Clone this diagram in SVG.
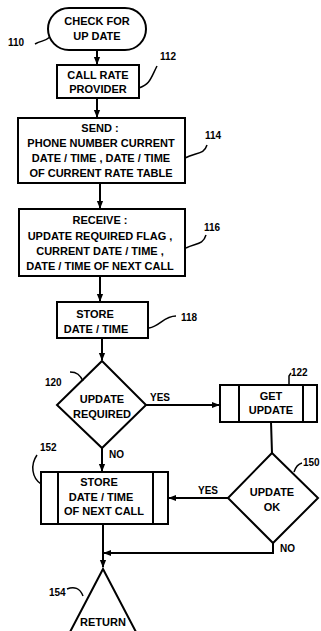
<svg xmlns="http://www.w3.org/2000/svg" width="321" height="631" viewBox="0 0 321 631">
<defs>
<marker id="ah" viewBox="0 0 10 10" refX="9" refY="5" markerWidth="4" markerHeight="4" orient="auto">
<path d="M0,1 L10,5 L0,9 z" fill="#000"/>
</marker>
<style>
.s{fill:#fff;stroke:#000;stroke-width:2}
.t{font-family:"Liberation Sans",Arial,sans-serif;font-weight:bold;font-size:11px;fill:#000;text-anchor:middle}
.l{font-family:"Liberation Sans",Arial,sans-serif;font-weight:bold;font-size:10px;fill:#000}
.c{fill:none;stroke:#000;stroke-width:2}
.ld{fill:none;stroke:#000;stroke-width:1.5}
</style>
</defs>
<rect width="321" height="631" fill="#fff"/>
<g id="connectors">
<line class="c" x1="97" y1="50" x2="97" y2="64" marker-end="url(#ah)"/>
<line class="c" x1="97" y1="98" x2="97" y2="117" marker-end="url(#ah)"/>
<line class="c" x1="100" y1="183" x2="100" y2="208" marker-end="url(#ah)"/>
<line class="c" x1="100" y1="276" x2="100" y2="301" marker-end="url(#ah)"/>
<line class="c" x1="102" y1="338" x2="102" y2="360" marker-end="url(#ah)"/>
<line class="c" x1="146" y1="405" x2="219" y2="405" marker-end="url(#ah)"/>
<line class="c" x1="271" y1="422" x2="272" y2="453"/>
<line class="c" x1="228" y1="498" x2="169" y2="498" marker-end="url(#ah)"/>
<line class="c" x1="102" y1="448" x2="102" y2="471" marker-end="url(#ah)"/>
<line class="c" x1="103" y1="524" x2="103" y2="567" marker-end="url(#ah)"/>
<polyline class="c" points="273,543 273,553 104,553" marker-end="url(#ah)"/>
<text class="l" x="150" y="401">YES</text>
<text class="l" x="198" y="494">YES</text>
<text class="l" x="109" y="458">NO</text>
<text class="l" x="280" y="552">NO</text>
</g>
<g id="n110">
<rect class="s" x="48" y="8" width="98" height="42" rx="21" ry="21"/>
<text class="t" x="97" y="25">CHECK FOR</text>
<text class="t" x="97" y="40">UP DATE</text>
<text class="l" x="8" y="46">110</text>
<path class="ld" d="M35,44 C42,40 44,42 50,37"/>
</g>
<g id="n112">
<rect class="s" x="57" y="65" width="82" height="33"/>
<text class="t" x="98" y="79">CALL RATE</text>
<text class="t" x="98" y="93">PROVIDER</text>
<text class="l" x="160" y="60">112</text>
<path class="ld" d="M139,88 C150,84 150,80 157,66"/>
</g>
<g id="n114">
<rect class="s" x="18" y="118" width="167" height="65"/>
<text class="t" x="100" y="132">SEND :</text>
<text class="t" x="101" y="147">PHONE NUMBER CURRENT</text>
<text class="t" x="101" y="162">DATE / TIME , DATE / TIME</text>
<text class="t" x="101" y="177">OF CURRENT RATE TABLE</text>
<text class="l" x="205" y="139">114</text>
<path class="ld" d="M185,158 C196,152 204,155 207,145"/>
</g>
<g id="n116">
<rect class="s" x="19" y="209" width="166" height="67"/>
<text class="t" x="100" y="224">RECEIVE :</text>
<text class="t" x="100" y="240">UPDATE REQUIRED FLAG ,</text>
<text class="t" x="100" y="255">CURRENT DATE / TIME ,</text>
<text class="t" x="100" y="270">DATE / TIME OF NEXT CALL</text>
<text class="l" x="204" y="231">116</text>
<path class="ld" d="M186,248 C196,243 203,245 206,235"/>
</g>
<g id="n118">
<rect class="s" x="57" y="302" width="91" height="36"/>
<text class="t" x="95" y="318">STORE</text>
<text class="t" x="96" y="333">DATE / TIME</text>
<text class="l" x="181" y="321">118</text>
<path class="ld" d="M149,328 C160,326 164,316 176,316"/>
</g>
<g id="n120">
<polygon class="s" points="102,361 146,405 102,448 57,405"/>
<text class="t" x="102" y="403">UPDATE</text>
<text class="t" x="102" y="418">REQUIRED</text>
<text class="l" x="45" y="386">120</text>
<path class="ld" d="M70,372 C77,372 80,375 83,381"/>
</g>
<g id="n122">
<rect class="s" x="220" y="385" width="97" height="37"/>
<line class="c" x1="239" y1="385" x2="239" y2="422"/>
<line class="c" x1="303" y1="385" x2="303" y2="422"/>
<text class="t" x="271" y="400">GET</text>
<text class="t" x="271" y="414">UPDATE</text>
<text class="l" x="291" y="376">122</text>
<path class="ld" d="M289,385 L289,376 L291,373"/>
</g>
<g id="n150">
<polygon class="s" points="272,453 318,498 273,543 228,498"/>
<text class="t" x="272" y="496">UPDATE</text>
<text class="t" x="272" y="511">OK</text>
<text class="l" x="303" y="466">150</text>
<path class="ld" d="M294,472 C296,466 298,464 302,463"/>
</g>
<g id="n152">
<rect class="s" x="41" y="472" width="127" height="52"/>
<line class="c" x1="58" y1="472" x2="58" y2="524"/>
<line class="c" x1="153" y1="472" x2="153" y2="524"/>
<text class="t" x="99" y="486">STORE</text>
<text class="t" x="101" y="501">DATE / TIME</text>
<text class="t" x="104" y="515">OF NEXT CALL</text>
<text class="l" x="40" y="451">152</text>
<path class="ld" d="M37,455 C30,465 32,478 41,484"/>
</g>
<g id="n154">
<polygon class="s" points="103,569 136,632 70,632"/>
<text class="t" x="103" y="626">RETURN</text>
<text class="l" x="49" y="596">154</text>
<path class="ld" d="M67,589 C74,586 80,588 83,596"/>
</g>
</svg>
